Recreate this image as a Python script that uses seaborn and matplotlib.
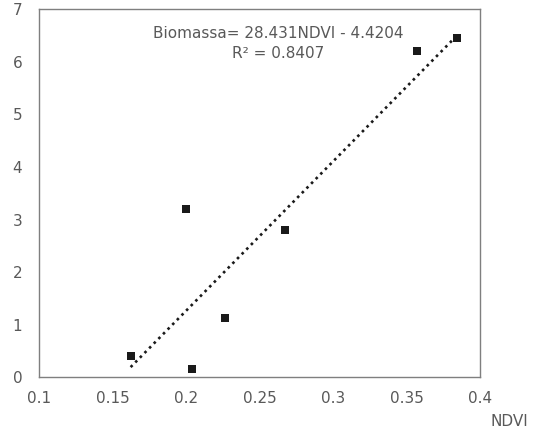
import numpy as np
import pandas as pd
import seaborn as sns
import matplotlib.pyplot as plt

# Data
ndvi = [0.1623, 0.2037, 0.1999, 0.2264, 0.2675, 0.3567, 0.3845]
biomassa = [0.405, 0.165, 3.21, 1.135, 2.80, 6.20, 6.45]

# Trend line reported on the chart
slope = 28.431
intercept = -4.4204
r2 = 0.8407

x_ticks = [0.1, 0.15, 0.2, 0.25, 0.3, 0.35, 0.4]
x_tick_labels = ["0.1", "0.15", "0.2", "0.25", "0.3", "0.35", "0.4"]
y_ticks = [0, 1, 2, 3, 4, 5, 6, 7]

df = pd.DataFrame({"NDVI": ndvi, "Biomassa": biomassa})
trend = pd.DataFrame({"NDVI": [min(ndvi), max(ndvi)]})
trend["Biomassa"] = slope * trend["NDVI"] + intercept

sns.set_style("white")
plt.rcParams["font.family"] = ["DejaVu Sans"]
text_grey = "#595959"

fig = plt.figure(figsize=(5.41, 4.29), dpi=100)
ax = fig.add_axes([39 / 541, 1 - 377.3 / 429, 441.3 / 541, 368 / 429])

sns.lineplot(data=trend, x="NDVI", y="Biomassa", ax=ax, color="#1a1a1a",
             linewidth=1.9, linestyle=(0, (1, 1.5)))
sns.scatterplot(data=df, x="NDVI", y="Biomassa", ax=ax, marker="s", s=40,
                color="#1a1a1a", linewidth=0, zorder=3)

ax.set_xlim(0.1, 0.4)
ax.set_ylim(0, 7)
ax.set_xticks(x_ticks)
ax.set_xticklabels(x_tick_labels)
ax.set_yticks(y_ticks)
ax.tick_params(axis="both", length=0, labelsize=11, labelcolor=text_grey)
ax.tick_params(axis="x", pad=10)
ax.tick_params(axis="y", pad=12)

for sp in ax.spines.values():
    sp.set_color("#7f7f7f")
    sp.set_linewidth(1.0)

ax.set_ylabel("")
ax.set_xlabel("NDVI", fontsize=11, color=text_grey)
ax.xaxis.set_label_coords(1.065, -0.1207)
ax.xaxis.label.set_verticalalignment("center")

ax.text(0.2626, 6.35, "Biomassa= %.3fNDVI - %.4f\nR² = %.4f" % (slope, -intercept, r2),
        ha="center", va="center", fontsize=11, color=text_grey, linespacing=1.35)

plt.savefig("out.png", dpi=100)
plt.close()
